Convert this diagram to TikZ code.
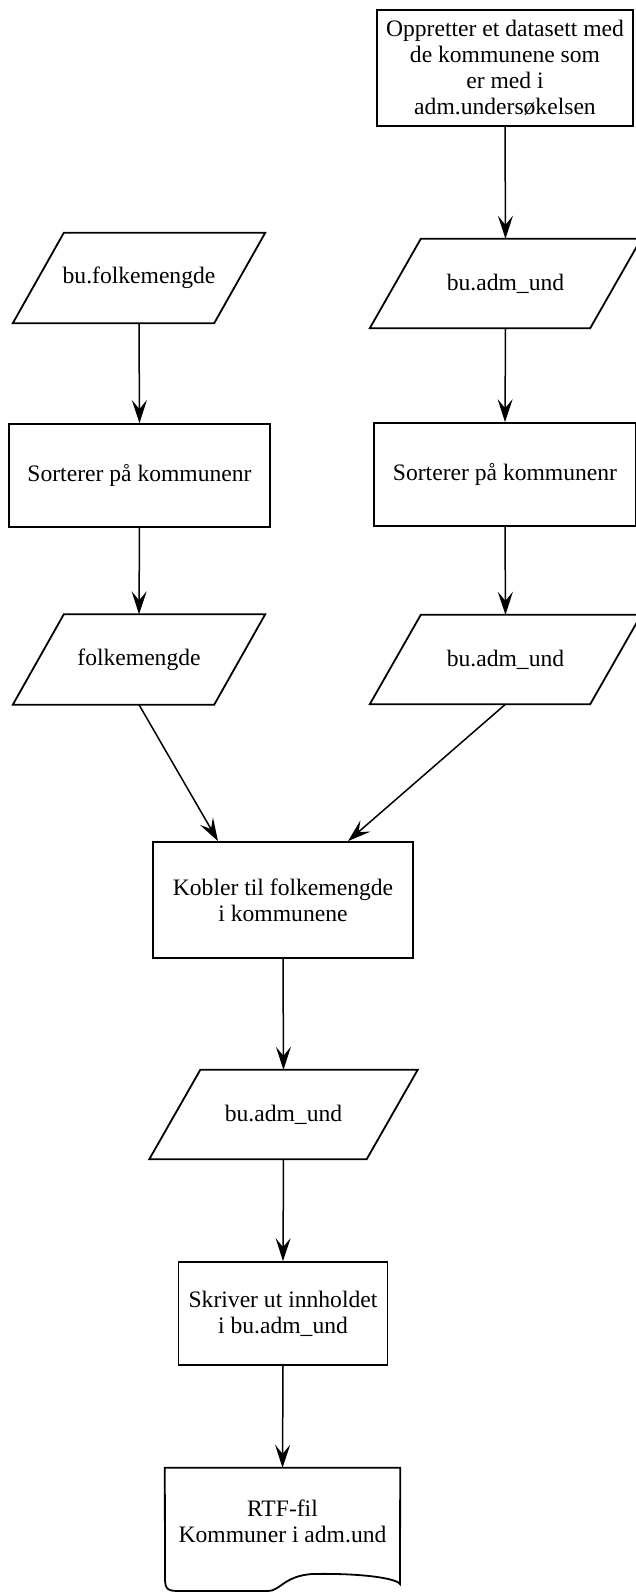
\documentclass[tikz,border=0pt]{standalone}
\usepackage{fontspec}
\setmainfont{Liberation Serif}
\usetikzlibrary{arrows.meta}
\begin{document}
\begin{tikzpicture}[x=1pt,y=-1pt,
  every node/.style={font=\fontsize{23.6}{26}\selectfont, align=center, inner sep=0pt},
  boxnode/.style={draw, line width=1.8pt},
  paranode/.style={draw=none},
  outline/.style={line width=1.8pt},
  arr/.style={line width=1.5pt, -{Stealth[length=23pt,width=15pt,inset=9pt]}}
]
\useasboundingbox (0,0) rectangle (636,1593);
\fill[white] (0,0) rectangle (636,1593);
\begin{scope}
\clip (0,0) rectangle (636,1593);

% right column
\node[boxnode, minimum width=256pt, minimum height=116pt] (T) at (505,68)
  {Oppretter et datasett med\\de kommunene som\\er med i\\adm.undersøkelsen};
\node[paranode, minimum width=271pt, minimum height=89pt] (P3) at (505.5,283.5) {bu.adm\_und};
\node[boxnode, minimum width=262pt, minimum height=103pt] (S2) at (505,474.5) {Sorterer på kommunenr};
\node[paranode, minimum width=271pt, minimum height=89pt] (P4) at (505.5,659.5) {bu.adm\_und};

% left column
\node[paranode, minimum width=252pt, minimum height=90pt] (P1) at (139,278) {bu.folkemengde};
\node[boxnode, minimum width=261pt, minimum height=103pt] (S1) at (139.5,475.5) {Sorterer på kommunenr};
\node[paranode, minimum width=252pt, minimum height=90pt] (P2) at (139,659.5) {folkemengde};

% middle
\node[boxnode, minimum width=260pt, minimum height=116pt] (K) at (283,900)
  {Kobler til folkemengde\\i kommunene};
\node[paranode, minimum width=268pt, minimum height=89pt] (P5) at (283.5,1114.5) {bu.adm\_und};
\node[boxnode, minimum width=209pt, minimum height=103pt] (W) at (283,1313.5)
  {Skriver ut innholdet\\i bu.adm\_und};
\node[minimum width=235pt, minimum height=107pt] (D) at (282.5,1521.5)
  {RTF-fil\\Kommuner i adm.und};

% parallelogram outlines
\foreach \p in {P1,P2,P3,P4,P5}{
  \draw[outline] (\p.south west) -- ([xshift=-51pt]\p.south east) -- (\p.north east)
    -- ([xshift=51pt]\p.north west) -- cycle;
}

% document outline
\draw[outline] (D.north west) -- (165,1578) .. controls (165,1590) and (168,1591) .. (180,1591)
  -- (268,1591) .. controls (280,1591) and (284,1576) .. (312,1574)
  .. controls (360,1573) and (396,1578) .. (400,1584) -- (D.north east) -- cycle;

% connectors
\draw[arr] (T.south) -- (P3.north);
\draw[arr] (P3.south) -- (S2.north);
\draw[arr] (S2.south) -- (P4.north);
\draw[arr] (P1.south) -- (S1.north);
\draw[arr] (S1.south) -- (P2.north);
\draw[arr] (P2.south) -- ([xshift=-65pt]K.north);
\draw[arr] (P4.south) -- ([xshift=65pt]K.north);
\draw[arr] (K.south) -- (P5.north);
\draw[arr] (P5.south) -- (W.north);
\draw[arr] (W.south) -- (D.north);
\end{scope}
\end{tikzpicture}
\end{document}
